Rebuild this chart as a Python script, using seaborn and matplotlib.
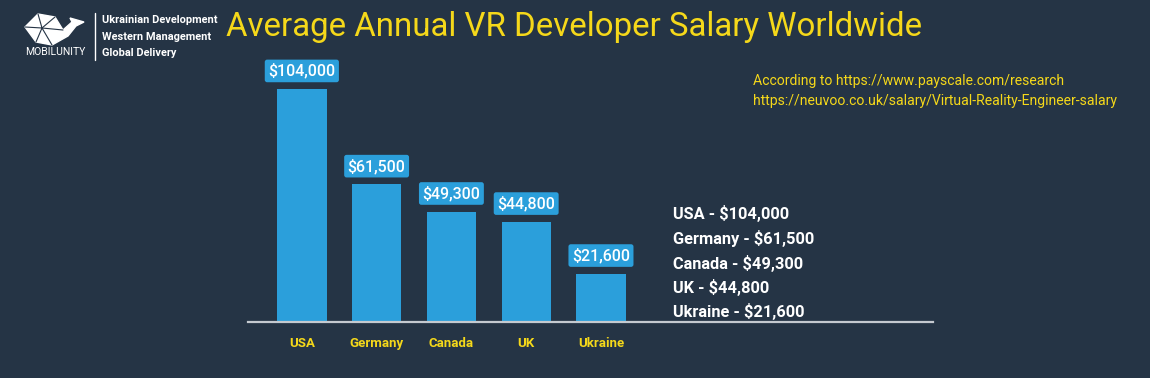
import pandas as pd
import matplotlib
matplotlib.use("Agg")
import matplotlib.pyplot as plt
import seaborn as sns
from matplotlib.patches import Polygon

countries = ["USA", "Germany", "Canada", "UK", "Ukraine"]
salaries = [104000, 61500, 49300, 44800, 21600]
title = "Average Annual VR Developer Salary Worldwide"
source_lines = ["According to https://www.payscale.com/research",
                "https://neuvoo.co.uk/salary/Virtual-Reality-Engineer-salary"]
tagline = ["Ukrainian Development", "Western Management", "Global Delivery"]

BG = "#253445"
BAR = "#2b9fdb"
YELLOW = "#f5d81a"

sns.set_style("dark")
plt.rcParams["font.family"] = ["Roboto", "DejaVu Sans"]

df = pd.DataFrame({"country": countries, "salary": salaries})

fig = plt.figure(figsize=(11.5, 3.78), dpi=100)
fig.patch.set_facecolor(BG)
W, H = 1150, 378
ax = fig.add_axes([248 / W, 56 / H, 685 / W, 272 / H])
ax.set_facecolor(BG)

sns.barplot(data=df, x="country", y="salary", color=BAR, saturation=1,
            width=0.66, linewidth=0, ax=ax)
ax.set_xlim(-0.72, 8.44)
ax.set_ylim(0, 121400)

for sp in ["top", "right", "left"]:
    ax.spines[sp].set_visible(False)
ax.spines["bottom"].set_color("#c5cad0")
ax.spines["bottom"].set_linewidth(1.6)
ax.set_yticks([])
ax.set_xlabel("")
ax.set_ylabel("")
ax.tick_params(axis="x", length=0, pad=11, labelcolor=YELLOW, labelsize=9.5)
for t in ax.get_xticklabels():
    t.set_fontweight("bold")
ax.grid(False)

# value labels above the bars
for i, v in enumerate(salaries):
    ax.annotate(f"${v:,}", (i, v), xytext=(0, 13), textcoords="offset points",
                ha="center", va="center", color="white", fontsize=11.5,
                fontweight="medium",
                bbox=dict(boxstyle="round,pad=0.22,rounding_size=0.15",
                          fc=BAR, ec="none"))

# legend-style list on the right
for i, (c, v) in enumerate(zip(countries, salaries)):
    fig.text(673 / W, 1 - (214 + i * 24.5) / H, f"{c} - ${v:,}", color="white",
             fontsize=11.8, fontweight="bold", va="center", ha="left")

fig.text(226 / W, 1 - 27 / H, title, color=YELLOW, fontsize=23.8,
         va="center", ha="left")
for i, line in enumerate(source_lines):
    fig.text(753 / W, 1 - (81 + i * 20) / H, line, color=YELLOW, fontsize=10.1,
             va="center", ha="left")

# logo
fig.text(55 / W, 1 - 52 / H, "MOBILUNITY", color="white", fontsize=7.5,
         ha="center", va="center")
fig.add_artist(plt.Line2D([95 / W, 95 / W], [1 - 13 / H, 1 - 60 / H],
                          color="white", lw=1))
for i, line in enumerate(tagline):
    fig.text(102 / W, 1 - (20 + i * 16.5) / H, line, color="white",
             fontsize=7.9, fontweight="bold", ha="left", va="center")
whale = [(25, 27), (38, 14), (55, 17), (63, 30), (72, 22), (70, 18), (84, 22),
         (76, 26), (68, 36), (52, 45), (36, 42)]
fig.add_artist(Polygon([(x / W, 1 - y / H) for x, y in whale], closed=True,
                       fc="white", ec="white", lw=1, transform=fig.transFigure))
inner = [[(38, 14), (42, 28), (25, 27)], [(42, 28), (55, 17)],
         [(42, 28), (52, 45)], [(42, 28), (63, 30)], [(36, 42), (42, 28)]]
for seg in inner:
    fig.add_artist(plt.Line2D([x / W for x, y in seg], [1 - y / H for x, y in seg],
                              color=BG, lw=0.8))

fig.savefig("out.png", facecolor=BG)
